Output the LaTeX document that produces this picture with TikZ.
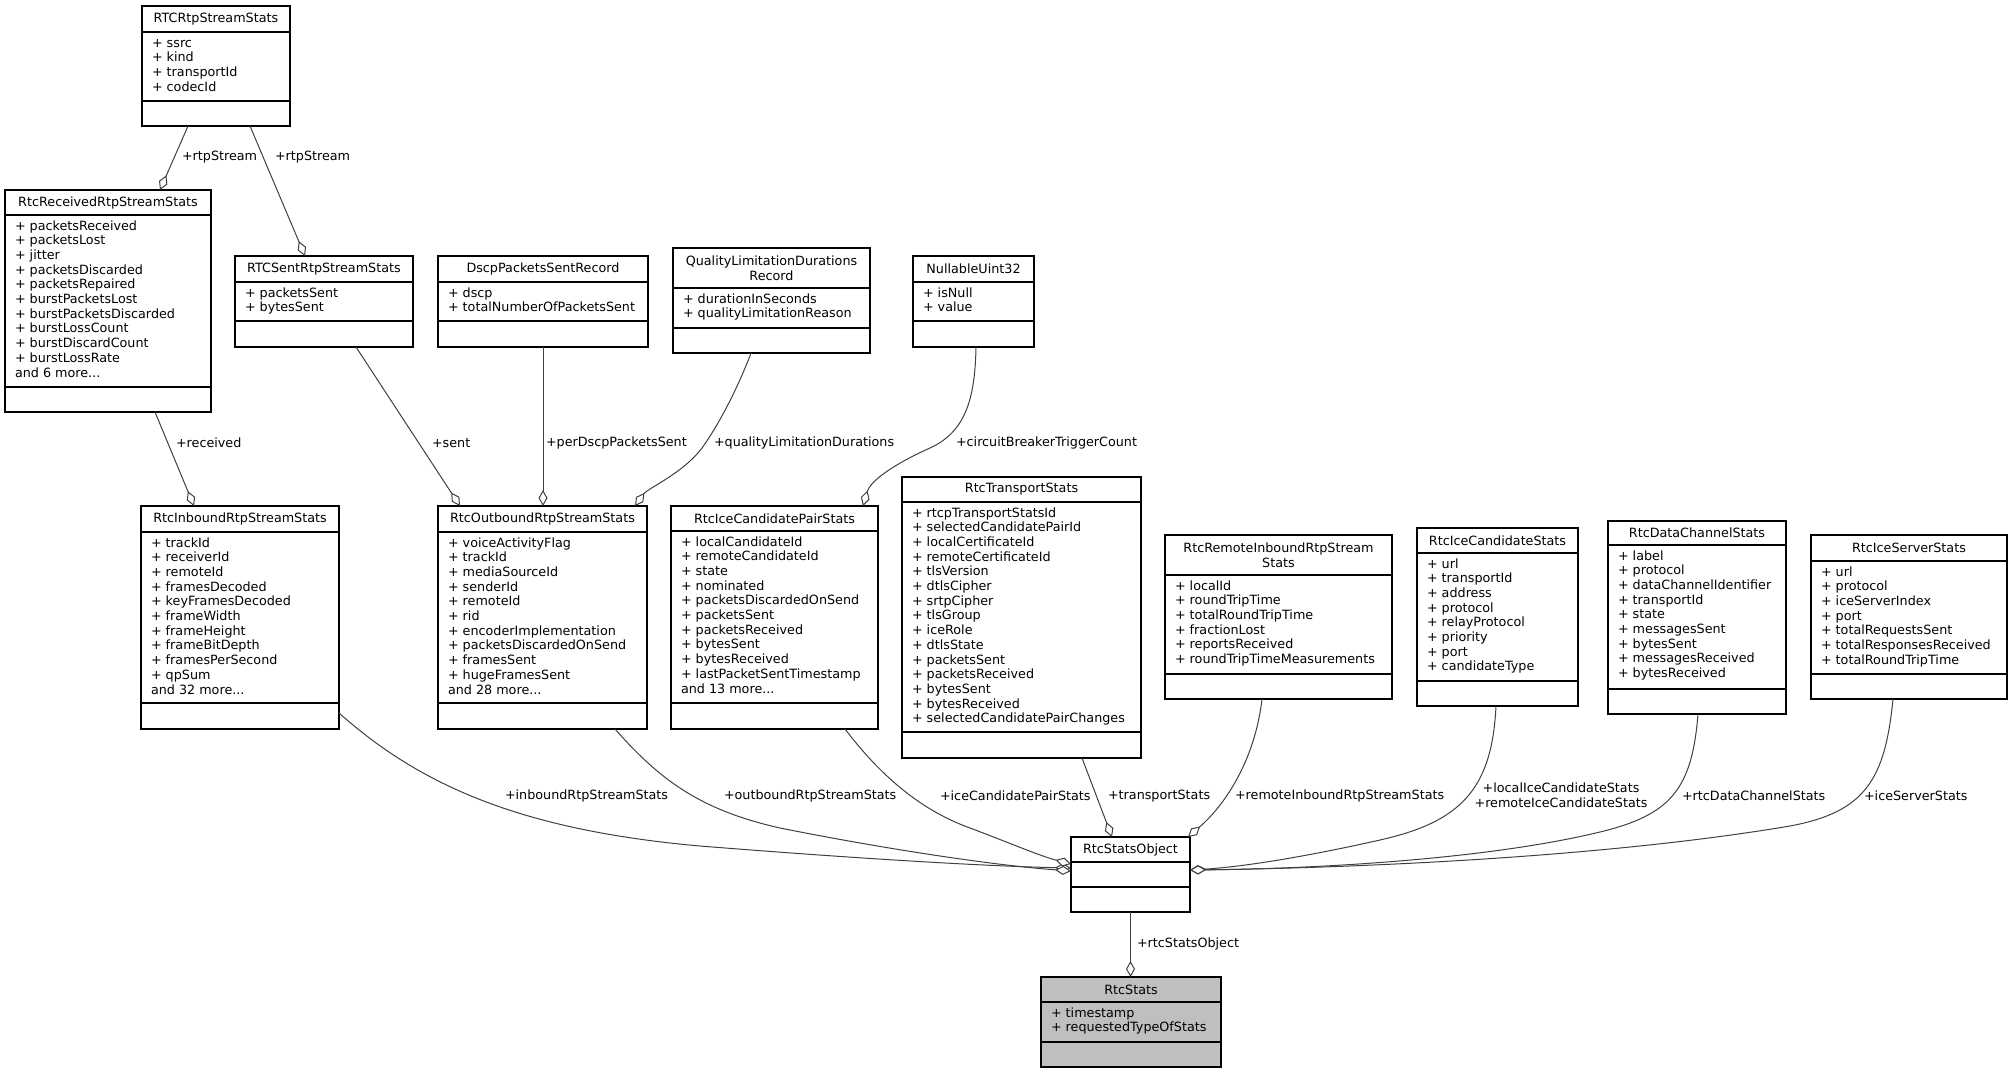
\documentclass[tikz,border=0pt]{standalone}
\usepackage{fontspec}
\setmainfont{DejaVu Sans}
\usetikzlibrary{arrows.meta,calc}
\definecolor{edgegray}{HTML}{404040}
\definecolor{rootgray}{HTML}{BFBFBF}
\newcommand\sr{\rule{0pt}{10pt}}
\def\clsfill{white}
\newcommand\umlclass[9]{%
  \node[clsbox, fill=\clsfill, minimum width={#4-#2}, minimum height={#5-#3}, anchor=north west] (#1) at (#2,#3) {};
  \draw[clsline] (#2,#6) -- (#4,#6);
  \draw[clsline] (#2,#7) -- (#4,#7);
  \node[txt, align=center] (#1-t) at ({(#2+#4)/2},{(#3+#6)/2}) {#8};
  \node[txt, align=left, anchor=north west] (#1-a) at ({#2+10},{#6+5}) {\sr#9};
}
\tikzset{
  txt/.style={inner sep=0pt, outer sep=0pt, font=\fontsize{12.75}{14.7}\selectfont, text=black},
  clsbox/.style={draw=black, line width=1.1pt, inner sep=0pt, outer sep=0pt},
  clsline/.style={draw=black, line width=1.1pt},
  agg/.style={draw=edgegray, line width=1pt, -{Diamond[fill=white, length=16pt, width=9pt]}},
  lbl/.style={txt, anchor=west},
}
\begin{document}
\begin{tikzpicture}[x=1pt, y=-1pt]
\useasboundingbox (0,0) rectangle (2013,1073);

\umlclass{A}{142}{6}{290}{126}{32}{101}{RTCRtpStreamStats}{+ ssrc\\+ kind\\+ transportId\\+ codecId}
\umlclass{B}{5}{190}{211}{412}{215}{387}{RtcReceivedRtpStreamStats}{+ packetsReceived\\+ packetsLost\\+ jitter\\+ packetsDiscarded\\+ packetsRepaired\\+ burstPacketsLost\\+ burstPacketsDiscarded\\+ burstLossCount\\+ burstDiscardCount\\+ burstLossRate\\and 6 more...}
\umlclass{C}{235}{256}{413}{347}{282}{321}{RTCSentRtpStreamStats}{+ packetsSent\\+ bytesSent}
\umlclass{D}{438}{256}{648}{347}{282}{321}{DscpPacketsSentRecord}{+ dscp\\+ totalNumberOfPacketsSent}
\umlclass{E}{673}{248}{870}{353}{288}{328}{QualityLimitationDurations\\Record}{+ durationInSeconds\\+ qualityLimitationReason}
\umlclass{F}{913}{256}{1034}{347}{282}{321}{NullableUint32}{+ isNull\\+ value}
\umlclass{G}{141}{506}{339}{729}{532}{703}{RtcInboundRtpStreamStats}{+ trackId\\+ receiverId\\+ remoteId\\+ framesDecoded\\+ keyFramesDecoded\\+ frameWidth\\+ frameHeight\\+ frameBitDepth\\+ framesPerSecond\\+ qpSum\\and 32 more...}
\umlclass{H}{438}{506}{647}{729}{532}{703}{RtcOutboundRtpStreamStats}{+ voiceActivityFlag\\+ trackId\\+ mediaSourceId\\+ senderId\\+ remoteId\\+ rid\\+ encoderImplementation\\+ packetsDiscardedOnSend\\+ framesSent\\+ hugeFramesSent\\and 28 more...}
\umlclass{I}{671}{506}{878}{729}{531}{703}{RtcIceCandidatePairStats}{+ localCandidateId\\+ remoteCandidateId\\+ state\\+ nominated\\+ packetsDiscardedOnSend\\+ packetsSent\\+ packetsReceived\\+ bytesSent\\+ bytesReceived\\+ lastPacketSentTimestamp\\and 13 more...}
\umlclass{J}{902}{477}{1141}{758}{502}{732}{RtcTransportStats}{+ rtcpTransportStatsId\\+ selectedCandidatePairId\\+ localCertificateId\\+ remoteCertificateId\\+ tlsVersion\\+ dtlsCipher\\+ srtpCipher\\+ tlsGroup\\+ iceRole\\+ dtlsState\\+ packetsSent\\+ packetsReceived\\+ bytesSent\\+ bytesReceived\\+ selectedCandidatePairChanges}
\umlclass{K}{1165}{535}{1392}{699}{575}{674}{RtcRemoteInboundRtpStream\\Stats}{+ localId\\+ roundTripTime\\+ totalRoundTripTime\\+ fractionLost\\+ reportsReceived\\+ roundTripTimeMeasurements}
\umlclass{L}{1417}{528}{1578}{706}{553}{681}{RtcIceCandidateStats}{+ url\\+ transportId\\+ address\\+ protocol\\+ relayProtocol\\+ priority\\+ port\\+ candidateType}
\umlclass{M}{1608}{521}{1786}{714}{545}{689}{RtcDataChannelStats}{+ label\\+ protocol\\+ dataChannelIdentifier\\+ transportId\\+ state\\+ messagesSent\\+ bytesSent\\+ messagesReceived\\+ bytesReceived}
\umlclass{N}{1811}{535}{2007}{699}{561}{674}{RtcIceServerStats}{+ url\\+ protocol\\+ iceServerIndex\\+ port\\+ totalRequestsSent\\+ totalResponsesReceived\\+ totalRoundTripTime}
\node[clsbox, fill=white, minimum width=119, minimum height=75, anchor=north west] (O) at (1071,837) {};
\draw[clsline] (O.west |- 0,862) -- (O.east |- 0,862);
\draw[clsline] (O.west |- 0,887) -- (O.east |- 0,887);
\node[txt] (O-t) at (1130.5,849.5) {RtcStatsObject};
\def\clsfill{rootgray}
\umlclass{P}{1041}{977}{1221}{1067}{1002}{1042}{RtcStats}{+ timestamp\\+ requestedTypeOfStats}

% connectors
\draw[agg] ([xshift=46pt]A.south west) -- ([xshift=155pt]B.north west);
\draw[agg] ([xshift=108pt]A.south west) -- ([xshift=70pt]C.north west);
\draw[agg] ([xshift=150pt]B.south west) -- ([xshift=53pt]G.north west);
\draw[agg] ([xshift=121pt]C.south west) -- ([xshift=22pt]H.north west);
\draw[agg] ([xshift=105pt]D.south west) -- ([xshift=105pt]H.north west);
\draw[agg] ([xshift=78pt]E.south west) .. controls (739,385) and (720,423) .. (702,448) .. controls (682,474) and (648,488) .. ([xshift=197pt]H.north west);
\draw[agg] ([xshift=63pt]F.south west) .. controls (975,400) and (965,432) .. (930,448) .. controls (890,466) and (870,482) .. ([xshift=192pt]I.north west);
\draw[agg] ([yshift=16pt]G.south east) .. controls (420,785) and (520,830) .. (700,846) .. controls (850,858) and (980,866) .. ([yshift=-31pt]O.north west);
\draw[agg] ([xshift=177pt]H.south west) .. controls (660,780) and (700,810) .. (780,828) .. controls (880,848) and (990,865) .. ([yshift=-34pt]O.north west);
\draw[agg] ([xshift=174pt]I.south west) .. controls (880,775) and (920,810) .. (970,828) .. controls (1010,843) and (1040,856) .. ([yshift=-27pt]O.north west);
\draw[agg] ([xshift=180pt]J.south west) -- ([xshift=41pt]O.north west);
\draw[agg] ([xshift=97pt]K.south west) .. controls (1255,760) and (1225,805) .. ([xshift=-2pt]O.north east);
\draw[agg] ([xshift=79pt]L.south west) .. controls (1492,790) and (1460,822) .. (1380,840) .. controls (1300,858) and (1240,867) .. ([yshift=-33pt]O.north east);
\draw[agg] ([xshift=90pt]M.south west) .. controls (1692,790) and (1670,815) .. (1600,832) .. controls (1480,861) and (1300,869) .. ([yshift=-33pt]O.north east);
\draw[agg] ([xshift=82pt]N.south west) .. controls (1885,780) and (1865,812) .. (1790,826) .. controls (1600,858) and (1350,868) .. ([yshift=-33pt]O.north east);
\draw[agg] (O.south) -- (P.north -| O.south);

% labels
\node[lbl] (l1) at (182,157) {+rtpStream};
\node[lbl] (l2) at (275,157) {+rtpStream};
\node[lbl] (l3) at (176,443) {+received};
\node[lbl] (l4) at (432,443) {+sent};
\node[lbl] (l5) at (546,443) {+perDscpPacketsSent};
\node[lbl] (l6) at (714,443) {+qualityLimitationDurations};
\node[lbl] (l7) at (956,443) {+circuitBreakerTriggerCount};
\node[lbl] (l8) at (505,796) {+inboundRtpStreamStats};
\node[lbl] (l9) at (724,796) {+outboundRtpStreamStats};
\node[lbl] (l10) at (940,796) {+iceCandidatePairStats};
\node[lbl] (l11) at (1108,796) {+transportStats};
\node[lbl] (l12) at (1235,796) {+remoteInboundRtpStreamStats};
\node[txt, align=center] (l13) at (1561,795) {+localIceCandidateStats\\+remoteIceCandidateStats};
\node[lbl] (l14) at (1682,796) {+rtcDataChannelStats};
\node[lbl] (l15) at (1864,796) {+iceServerStats};
\node[lbl] (l16) at (1137,944) {+rtcStatsObject};
\end{tikzpicture}
\end{document}
